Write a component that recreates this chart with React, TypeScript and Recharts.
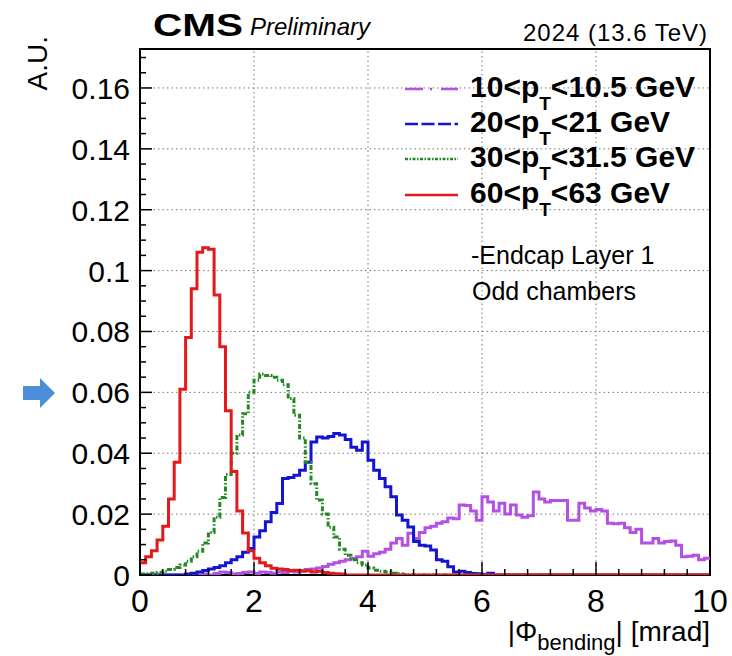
import { LineChart, Line, XAxis, YAxis, ReferenceLine, ReferenceArea } from 'recharts';

const FONT = "'Liberation Sans', Arial, Helvetica, sans-serif";

const BIN_WIDTH = 0.1;
const X_MAX = 10;
const Y_MAX = 0.1728;
const X_MAJOR = [0, 2, 4, 6, 8, 10];
const Y_MAJOR = [0, 0.02, 0.04, 0.06, 0.08, 0.1, 0.12, 0.14, 0.16];
const X_MINOR_STEP = 0.4;
const Y_MINOR_STEP = 0.005;

// bin contents, 100 bins of 0.1 mrad from 0 to 10
const PT10 = [
  0, 0, 0, 0, 0, 0, 0, 0, 0, 0,
  0, 0.0003, 0, 0.0005, 0.001, 0.0008, 0.0003, 0.0005, 0.0008, 0.001,
  0.0005, 0.001, 0.0008, 0.0006, 0.001, 0.0008, 0.0012, 0.001, 0.0015, 0.0018,
  0.002, 0.0023, 0.0028, 0.0035, 0.004, 0.0045, 0.005, 0.0055, 0.006, 0.0078,
  0.0062, 0.007, 0.0075, 0.0085, 0.0105, 0.012, 0.0098, 0.0137, 0.012, 0.014,
  0.0155, 0.016, 0.017, 0.0175, 0.0187, 0.0185, 0.023, 0.0228, 0.021, 0.018,
  0.0257, 0.024, 0.021, 0.0236, 0.02, 0.023, 0.0197, 0.019, 0.0195, 0.0273,
  0.025, 0.024, 0.0245, 0.0245, 0.0245, 0.018, 0.018, 0.0236, 0.022, 0.021,
  0.0215, 0.021, 0.017, 0.0168, 0.017, 0.0155, 0.014, 0.015, 0.0105, 0.0105,
  0.012, 0.0105, 0.011, 0.0112, 0.0098, 0.006, 0.0062, 0.0065, 0.005, 0.0055,
];

const PT20 = [
  0, 0, 0, 0, 0, 0, 0, 0, 0.0003, 0.0006,
  0.001, 0.0015, 0.002, 0.0025, 0.003, 0.004, 0.005, 0.006, 0.0075, 0.0087,
  0.0125, 0.0145, 0.0175, 0.0205, 0.0235, 0.0317, 0.032, 0.0328, 0.0344, 0.037,
  0.0437, 0.0453, 0.045, 0.0455, 0.0465, 0.046, 0.0445, 0.042, 0.041, 0.0437,
  0.0377, 0.0344, 0.0317, 0.029, 0.0257, 0.0197, 0.018, 0.0158, 0.011, 0.0098,
  0.0095, 0.0082, 0.005, 0.0045, 0.0027, 0.001, 0.0012, 0.0008, 0.0005, 0.0004,
  0.0002, 0.0006, 0, 0, 0, 0, 0, 0, 0, 0,
  0, 0, 0, 0, 0, 0, 0, 0, 0, 0,
  0, 0, 0, 0, 0, 0, 0, 0, 0, 0,
  0, 0, 0, 0, 0, 0, 0, 0, 0, 0,
];

const PT30 = [
  0.0003, 0.0004, 0.0006, 0.0008, 0.0012, 0.0018, 0.0025, 0.0033, 0.0045, 0.006,
  0.0078, 0.0105, 0.014, 0.019, 0.0255, 0.033, 0.04, 0.046, 0.053, 0.06,
  0.064, 0.066, 0.0655, 0.065, 0.064, 0.0625, 0.058, 0.0525, 0.045, 0.037,
  0.03, 0.0246, 0.02, 0.0157, 0.0125, 0.0085, 0.0065, 0.005, 0.004, 0.0033,
  0.0023, 0.0016, 0.0012, 0.001, 0.0006, 0.0004, 0.0002, 0, 0, 0,
  0, 0, 0, 0, 0, 0, 0, 0, 0, 0,
  0, 0, 0, 0, 0, 0, 0, 0, 0, 0,
  0, 0, 0, 0, 0, 0, 0, 0, 0, 0,
  0, 0, 0, 0, 0, 0, 0, 0, 0, 0,
  0, 0, 0, 0, 0, 0, 0, 0, 0, 0,
];

const PT60 = [
  0.004, 0.006, 0.008, 0.0115, 0.016, 0.025, 0.037, 0.061, 0.078, 0.094,
  0.106, 0.1075, 0.107, 0.092, 0.075, 0.054, 0.034, 0.021, 0.0138, 0.008,
  0.0055, 0.004, 0.003, 0.0022, 0.002, 0.0018, 0.0015, 0.0016, 0.0012, 0.0014,
  0.001, 0.0012, 0.0008, 0.0006, 0.0004, 0.0003, 0, 0, 0, 0,
  0, 0, 0, 0, 0, 0, 0, 0, 0, 0,
  0, 0, 0, 0, 0, 0, 0, 0, 0, 0,
  0, 0, 0, 0, 0, 0, 0, 0, 0, 0,
  0, 0, 0, 0, 0, 0, 0, 0, 0, 0,
  0, 0, 0, 0, 0, 0, 0, 0, 0, 0,
  0, 0, 0, 0, 0, 0, 0, 0, 0, 0,
];

const SERIES = [
  { key: 'pt10', lo: '10', hi: '10.5', color: '#b450e4', dash: undefined, legendDash: '18 7 2 9' },
  { key: 'pt20', lo: '20', hi: '21', color: '#1414d2', dash: undefined, legendDash: '13 3.5' },
  { key: 'pt30', lo: '30', hi: '31.5', color: '#238a23', dash: '5 2 1.5 2', legendDash: '3 1.5 1.5 1.5' },
  { key: 'pt60', lo: '60', hi: '63', color: '#e3191c', dash: undefined, legendDash: undefined },
];

const rows = Array.from({ length: PT10.length + 1 }, (_, i) => {
  const j = Math.min(i, PT10.length - 1);
  return { x: +(i * BIN_WIDTH).toFixed(2), pt10: PT10[j], pt20: PT20[j], pt30: PT30[j], pt60: PT60[j] };
});

const xTicks = Array.from({ length: Math.round(X_MAX / X_MINOR_STEP) + 1 }, (_, i) => +(i * X_MINOR_STEP).toFixed(2));
const yTicks = Array.from({ length: Math.floor(Y_MAX / Y_MINOR_STEP) + 1 }, (_, i) => +(i * Y_MINOR_STEP).toFixed(3));

const isMajor = (list: number[], v: number) => list.some((m) => Math.abs(m - v) < 1e-6);

function XTick(props: any) {
  const { x, y, payload } = props;
  const major = isMajor(X_MAJOR, payload.value);
  return (
    <g>
      <line x1={x} x2={x} y1={y} y2={y - (major ? 13 : 6)} stroke="#000" strokeWidth={1.5} />
      {major && (
        <text x={x} y={y + 37} textAnchor="middle" fontSize={32} fontFamily={FONT} fill="#000">
          {payload.value}
        </text>
      )}
    </g>
  );
}

function YTick(props: any) {
  const { x, y, payload } = props;
  const major = isMajor(Y_MAJOR, payload.value);
  return (
    <g>
      <line x1={x} x2={x + (major ? 12 : 6)} y1={y} y2={y} stroke="#000" strokeWidth={1.5} />
      {major && (
        <text x={x - 10} y={y + 11} textAnchor="end" fontSize={30} fontFamily={FONT} fill="#000">
          {payload.value}
        </text>
      )}
    </g>
  );
}

const LEGEND_BASE = [97, 132, 167, 203];

export default function App() {
  return (
    <div style={{ position: 'absolute', left: 0, top: 0, width: 732, height: 656, background: '#fff' }}>
      <LineChart width={732} height={656} data={rows} margin={{ top: 49, right: 22, bottom: 31, left: 70 }}>
        <XAxis dataKey="x" type="number" domain={[0, X_MAX]} ticks={xTicks} interval={0}
          tick={(p: any) => <XTick {...p} />} tickLine={false} tickSize={0} tickMargin={0}
          axisLine={false} height={50} allowDataOverflow />
        <YAxis type="number" domain={[0, Y_MAX]} ticks={yTicks} interval={0}
          tick={(p: any) => <YTick {...p} />} tickLine={false} tickSize={0} tickMargin={0}
          axisLine={false} width={70} allowDataOverflow />
        {X_MAJOR.slice(1, -1).map((v) => (
          <ReferenceLine key={'gx' + v} x={v} stroke="#777" strokeDasharray="1.5 3" strokeWidth={1} />
        ))}
        {Y_MAJOR.slice(1).map((v) => (
          <ReferenceLine key={'gy' + v} y={v} stroke="#777" strokeDasharray="1.5 3" strokeWidth={1} />
        ))}
        {SERIES.map((s) => (
          <Line key={s.key} dataKey={s.key} type="stepAfter" stroke={s.color} strokeWidth={3}
            strokeDasharray={s.dash} dot={false} activeDot={false} isAnimationActive={false} />
        ))}
        <ReferenceArea x1={0} x2={X_MAX} y1={0} y2={Y_MAX} fill="none" fillOpacity={0} stroke="#000" strokeWidth={2} />
      </LineChart>

      <svg width={732} height={656} style={{ position: 'absolute', left: 0, top: 0, pointerEvents: 'none' }}>
        <text x={153} y={36} fontSize={31} fontWeight="bold" fontFamily={FONT} textLength={90} lengthAdjust="spacingAndGlyphs">CMS</text>
        <text x={250} y={35} fontSize={24} fontStyle="italic" fontFamily={FONT}>Preliminary</text>
        <text x={707} y={41} fontSize={24} fontFamily={FONT} textAnchor="end" textLength={184} lengthAdjust="spacing">2024  (13.6 TeV)</text>

        <text transform="translate(47,36) rotate(-90)" fontSize={28} fontFamily={FONT} textAnchor="end">A.U.</text>

        <text x={710} y={641} fontSize={28} fontFamily={FONT} textAnchor="end">
          |Φ<tspan dy={9} fontSize={22}>bending</tspan><tspan dy={-9} fontSize={28}>| [mrad]</tspan>
        </text>

        {SERIES.map((s, i) => (
          <g key={s.key}>
            <line x1={405} x2={458} y1={LEGEND_BASE[i] - 8} y2={LEGEND_BASE[i] - 8} stroke={s.color}
              strokeWidth={2.5} strokeDasharray={s.legendDash} />
            <text x={470} y={LEGEND_BASE[i]} fontSize={30} fontWeight="bold" fontFamily={FONT}>
              {s.lo}&lt;p<tspan dy={13} fontSize={19}>T</tspan><tspan dy={-13} fontSize={30}>&lt;{s.hi} GeV</tspan>
            </text>
          </g>
        ))}

        <text x={471} y={264} fontSize={25} fontFamily={FONT}>-Endcap Layer 1</text>
        <text x={472} y={300} fontSize={25} fontFamily={FONT}>Odd chambers</text>

        <polygon points="23,386 40,386 40,378 55,393 40,408 40,400 23,400" fill="#4a8fd8" />
      </svg>
    </div>
  );
}
